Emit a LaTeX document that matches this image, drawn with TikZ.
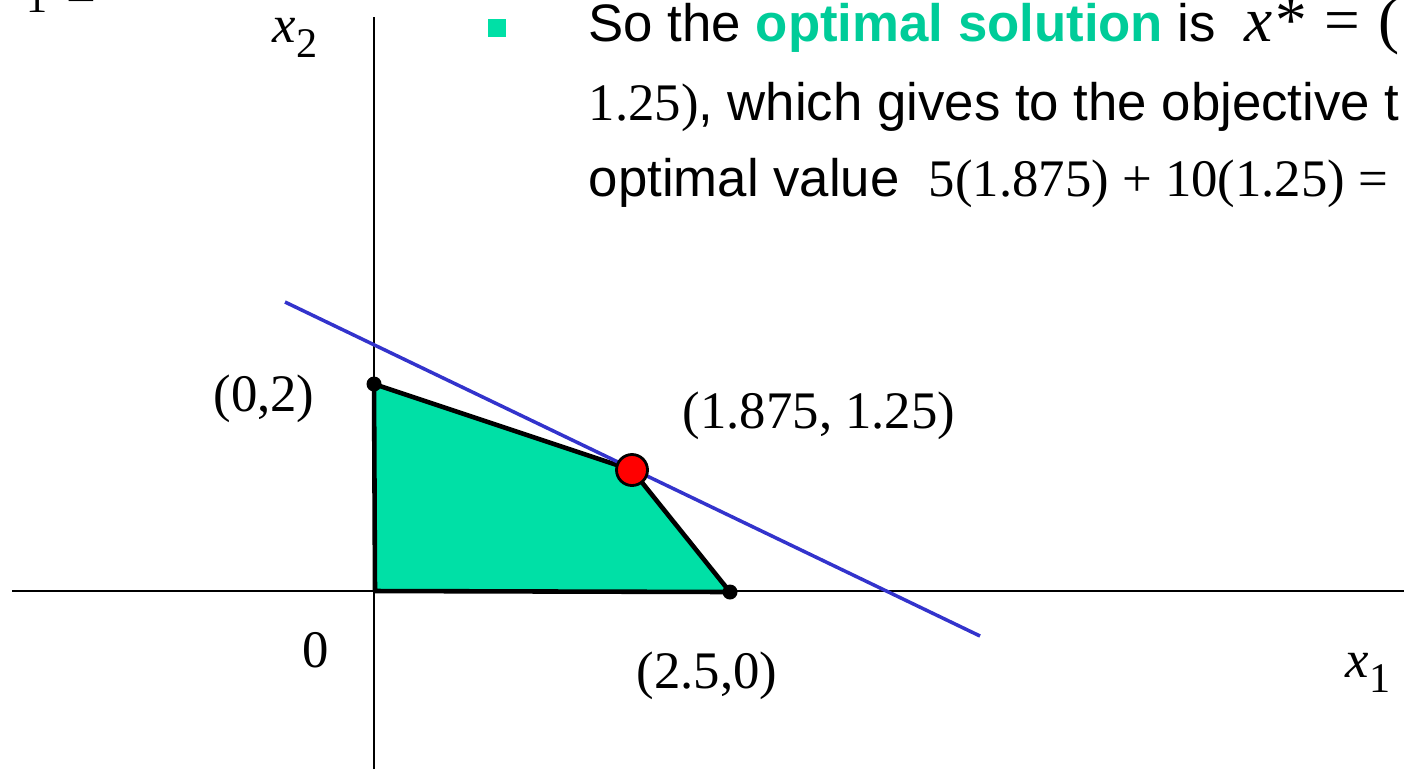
\documentclass[tikz,border=0pt]{standalone}
\usepackage{fontspec}
\setmainfont{Liberation Sans}
\newfontfamily\tms{Liberation Serif}
\usetikzlibrary{positioning}

\definecolor{regiongreen}{RGB}{0,224,166}
\definecolor{textgreen}{RGB}{0,204,153}
\definecolor{objblue}{RGB}{51,51,204}

\begin{document}
\begin{tikzpicture}[
    x=0.01cm, y=-0.01cm,
    every node/.style={font=\fontsize{15}{18}\selectfont, inner sep=0pt},
    lbl/.style={font=\fontsize{15}{18}\selectfont\tms, anchor=base},
    axis/.style={line width=0.7pt},
    edge/.style={line width=1.3pt, line join=round},
    vertex/.style={circle, fill=black, minimum size=0.15cm},
    optpt/.style={circle, draw=black, line width=0.8pt, fill=red, minimum size=0.31cm},
    objline/.style={objblue, line width=1pt}
]
\useasboundingbox (0,0) rectangle (1404,769);
\clip (0,0) rectangle (1404,769);

% axes ends
\coordinate (xl) at (12,591);
\coordinate (xr) at (1404,591);
\coordinate (yb) at (374,769);
\coordinate (yt) at (374,17);

% feasible region corners
\coordinate (o) at (375,591);
\coordinate (a) at (374,384);
\coordinate (b) at (632,470);
\coordinate (c) at (730,592);

% objective line
\coordinate (p) at (285,302);
\coordinate (q) at (980,636);

\fill[regiongreen] (o) -- (a) -- (b) -- (c) -- cycle;
\draw[axis] (xl) -- (xr);
\draw[axis] (yb) -- (yt);
\draw[edge] (o) -- (a) -- (b) -- (c) -- cycle;
\draw[objline] (p) -- (q);

\node[vertex] (va) at (a) {};
\node[vertex] (vc) at (c) {};
\node[optpt] (vb) at (b) {};

\node[lbl] (la) at (264,411) {(0,2)};
\node[lbl] (lb) at (819,428) {(1.875, 1.25)};
\node[lbl] (lc) at (707,688) {(2.5,0)};
\node[lbl] (lo) at (316,667) {0};
\node[lbl, anchor=base west] (lx1) at (1345,677) {\itshape x\raisebox{-0.15cm}{\fontsize{12}{14}\selectfont\upshape 1}};
\node[lbl, anchor=base west] (lx2) at (272,42) {\itshape x\raisebox{-0.15cm}{\fontsize{12}{14}\selectfont\upshape 2}};

% cut-off text at the top left
\node[lbl] (frag1) at (37,12) {\fontsize{12}{14}\selectfont 1};
\node[lbl] (frag2) at (81,12.5) {=};

% text block
\node[rectangle, fill=regiongreen, minimum size=0.18cm] (bullet) at (497,28) {};
\node[anchor=base west] (line1) at (588,41) {So the \textcolor{textgreen}{\bfseries optimal solution} is\hspace{8pt}{\fontsize{18}{20}\selectfont\tms\itshape x\upshape\hspace{1pt}*\hspace{5pt}=\hspace{5pt}(}};
\node[anchor=base west] (line2) at (588,120) {{\tms 1.25)}, which gives to the objective t};
\node[anchor=base west] (line3) at (588,196) {optimal value\ \ {\tms 5(1.875) + 10(1.25) =}};
\end{tikzpicture}
\end{document}
